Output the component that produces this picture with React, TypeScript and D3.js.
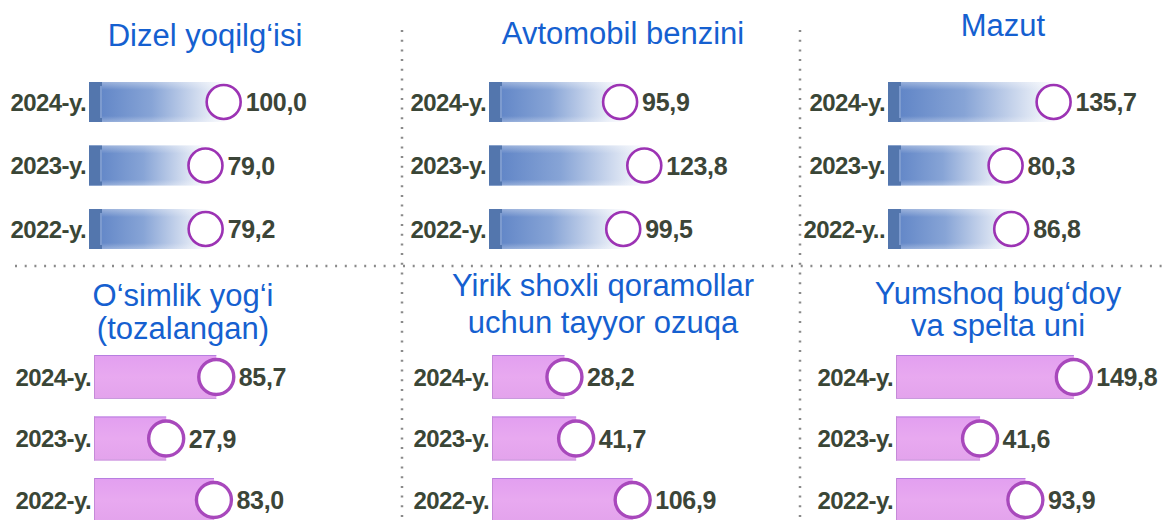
import React from "react";
import * as d3 from "d3";

const W = 1163;
const H = 520;

const years = ["2024-y.", "2023-y.", "2022-y."];
const mazutYears = ["2024-y.", "2023-y.", "2022-y.."];

const titles = [
  ["Dizel yoqilg‘isi"],
  ["Avtomobil benzini"],
  ["Mazut"],
  ["O‘simlik yog‘i", "(tozalangan)"],
  ["Yirik shoxli qoramollar", "uchun tayyor ozuqa"],
  ["Yumshoq bug‘doy", "va spelta uni"],
];

const dizel = [100.0, 79.0, 79.2];
const benzin = [95.9, 123.8, 99.5];
const mazut = [135.7, 80.3, 86.8];
const osimlik = [85.7, 27.9, 83.0];
const ozuqa = [28.2, 41.7, 106.9];
const bugdoy = [149.8, 41.6, 93.9];

const seriesList = [dizel, benzin, mazut, osimlik, ozuqa, bugdoy];
const labelList = [years, years, mazutYears, years, years, years];

// layout (not data)
const panelX0 = [89, 489, 888, 94, 492, 896];
const titleCx = [205, 623, 1003, 183, 603, 998];
const titleY = [46, 44, 36, 306, 296, 304];
const lineGap = [0, 0, 0, 33, 37, 32];

const fmt = (v: number) => d3.format(".1f")(v).replace(".", ",");

export default function App() {
  const xOff = d3.scaleLinear().domain([0, 150]).range([48, 178]);
  const yTop = d3.scalePoint<string>().domain(["0", "1", "2"]).range([102, 229]);
  const yBot = d3.scalePoint<string>().domain(["0", "1", "2"]).range([377, 500]);

  const valueFont = "'Liberation Sans', Arial, sans-serif";

  return (
    <div style={{ position: "absolute", left: 0, top: 0 }}>
      <svg width={W} height={H} style={{ display: "block", background: "#fff" }}>
        <defs>
          <linearGradient id="blueG" x1="0" x2="1" y1="0" y2="0">
            <stop offset="0%" stopColor="#5a80c4" />
            <stop offset="45%" stopColor="#87a4d6" />
            <stop offset="80%" stopColor="#d4def0" />
            <stop offset="100%" stopColor="#ffffff" />
          </linearGradient>
          <linearGradient id="blueV" x1="0" x2="0" y1="0" y2="1">
            <stop offset="0%" stopColor="#ffffff" stopOpacity="0.35" />
            <stop offset="20%" stopColor="#ffffff" stopOpacity="0" />
            <stop offset="85%" stopColor="#ffffff" stopOpacity="0" />
            <stop offset="100%" stopColor="#ffffff" stopOpacity="0.3" />
          </linearGradient>
          <linearGradient id="pinkG" x1="0" x2="0" y1="0" y2="1">
            <stop offset="0%" stopColor="#e29ff0" />
            <stop offset="50%" stopColor="#e8a9f0" />
            <stop offset="100%" stopColor="#e3a3ec" />
          </linearGradient>
        </defs>

        {/* separators */}
        <g stroke="#8a8a8a" strokeWidth={2.5} strokeDasharray="2 7.7" fill="none">
          <line x1={402} x2={402} y1={30} y2={H} />
          <line x1={800} x2={800} y1={30} y2={H} />
          <line x1={15} x2={W} y1={266} y2={266} />
        </g>

        {/* titles */}
        {titles.map((lines, i) => (
          <text
            key={"t" + i}
            x={titleCx[i]}
            y={titleY[i]}
            textAnchor="middle"
            fill="#1560d0"
            fontFamily="'Liberation Sans', Arial, sans-serif"
            fontSize={31}
          >
            {lines.map((l, j) => (
              <tspan key={j} x={titleCx[i]} dy={j === 0 ? 0 : lineGap[i]}>
                {l}
              </tspan>
            ))}
          </text>
        ))}

        {seriesList.map((vals, p) => {
          const top = p < 3;
          const x0 = panelX0[p];
          const yS = top ? yTop : yBot;
          const bh = top ? 40 : 44;
          const r = top ? 17 : 17.5;
          return (
            <g key={"p" + p}>
              {vals.map((v, i) => {
                const cy = yS(String(i)) as number;
                const cx = x0 + xOff(v);
                const w = cx - x0;
                return (
                  <g key={i}>
                    {top ? (
                      <g>
                        <rect x={x0} y={cy - bh / 2} width={w + 4} height={bh} fill="url(#blueG)" />
                        <rect x={x0} y={cy - bh / 2} width={w + 4} height={bh} fill="url(#blueV)" />
                        <rect x={x0} y={cy - bh / 2} width={13} height={bh} fill="#5376ad" />
                        <rect x={x0 + 11} y={cy - bh / 2 + 4} width={2} height={bh - 8} fill="#7d9bcf" />
                      </g>
                    ) : (
                      <g>
                        <rect x={x0} y={cy - bh / 2} width={w} height={bh} fill="url(#pinkG)" />
                        <line x1={x0} x2={x0 + w} y1={cy - bh / 2 + 0.5} y2={cy - bh / 2 + 0.5} stroke="#b77ee0" strokeWidth={1} />
                        <line x1={x0 + 0.5} x2={x0 + 0.5} y1={cy - bh / 2} y2={cy + bh / 2} stroke="#c58ad8" strokeWidth={1} />
                        <line x1={x0} x2={x0 + w} y1={cy + bh / 2 - 0.5} y2={cy + bh / 2 - 0.5} stroke="#c99add" strokeWidth={1} />
                      </g>
                    )}
                    <circle
                      cx={cx}
                      cy={cy}
                      r={r}
                      fill="#ffffff"
                      stroke={top ? "#9c33b4" : "#a848bc"}
                      strokeWidth={top ? 2.6 : 3.4}
                    />
                    <text
                      x={x0 - 3}
                      y={cy + 8.5}
                      textAnchor="end"
                      fill="#3a4636"
                      fontFamily={valueFont}
                      fontWeight="bold"
                      fontSize={24}
                      letterSpacing={-0.6}
                    >
                      {labelList[p][i]}
                    </text>
                    <text
                      x={cx + r + 5}
                      y={cy + 9}
                      textAnchor="start"
                      fill="#3c4538"
                      fontFamily={valueFont}
                      fontWeight="bold"
                      fontSize={25}
                      letterSpacing={-0.3}
                    >
                      {fmt(v)}
                    </text>
                  </g>
                );
              })}
            </g>
          );
        })}
      </svg>
    </div>
  );
}
